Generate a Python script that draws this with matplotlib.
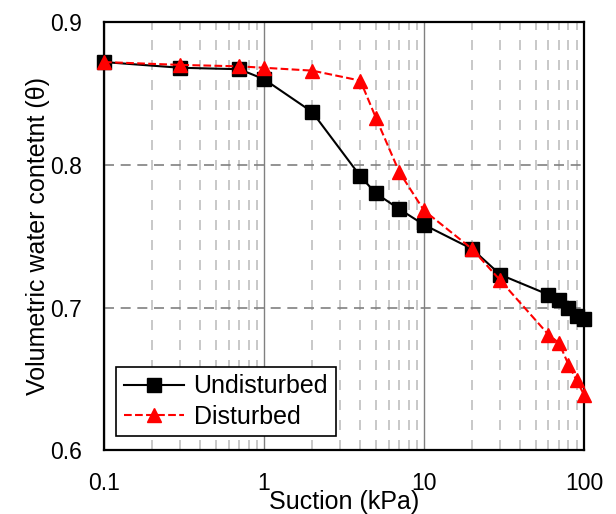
import matplotlib.pyplot as plt
from matplotlib.ticker import LogLocator, NullFormatter, FixedLocator

plt.rcParams['font.family'] = ['Liberation Sans', 'DejaVu Sans']

suction_und = [0.1, 0.3, 0.7, 1, 2, 4, 5, 7, 10, 20, 30, 60, 70, 80, 90, 100]
theta_und = [0.872, 0.868, 0.867, 0.860, 0.837, 0.792, 0.780, 0.769, 0.758,
             0.741, 0.723, 0.709, 0.705, 0.700, 0.694, 0.692]

suction_dis = [0.1, 0.3, 0.7, 1, 2, 4, 5, 7, 10, 20, 30, 60, 70, 80, 90, 100]
theta_dis = [0.872, 0.870, 0.869, 0.868, 0.866, 0.859, 0.833, 0.795, 0.768,
             0.741, 0.719, 0.681, 0.675, 0.660, 0.649, 0.639]

fig, ax = plt.subplots(figsize=(6.16, 5.14), dpi=100)
fig.subplots_adjust(left=0.169, right=0.948, top=0.957, bottom=0.124)

ax.plot(suction_und, theta_und, '-s', color='black', lw=1.5, ms=10,
        label='Undisturbed', zorder=3, clip_on=False)
ax.plot(suction_dis, theta_dis, '--^', color='red', lw=1.5, ms=10,
        label='Disturbed', zorder=4, clip_on=False)

ax.set_xscale('log')
ax.set_xlim(0.1, 100)
ax.set_ylim(0.6, 0.9)
ax.yaxis.set_major_locator(FixedLocator([0.6, 0.7, 0.8, 0.9]))
ax.set_yticklabels(['0.6', '0.7', '0.8', '0.9'])
ax.set_xticks([0.1, 1, 10, 100])
ax.set_xticklabels(['0.1', '1', '10', '100'])
ax.xaxis.set_minor_locator(LogLocator(base=10, subs=range(2, 10)))
ax.xaxis.set_minor_formatter(NullFormatter())

ax.grid(True, which='major', axis='x', color='#808080', lw=1.0, ls='-')
ax.grid(True, which='minor', axis='x', color='#bfbfbf', lw=1.2, ls=(0, (6, 6)))
ax.grid(True, which='major', axis='y', color='#808080', lw=1.2, ls=(0, (6, 4)))
ax.set_axisbelow(True)

ax.tick_params(which='both', length=0, labelsize=16.5, pad=16)
for s in ax.spines.values():
    s.set_linewidth(1.6)

ax.set_xlabel('Suction (kPa)', fontsize=18, labelpad=-4)
ax.set_ylabel('Volumetric water contetnt (\u03b8)', fontsize=18, labelpad=0)

leg = ax.legend(loc='lower left', bbox_to_anchor=(0.025, 0.033), fontsize=18,
                fancybox=False, edgecolor='black', framealpha=1,
                handlelength=2.4, handletextpad=0.4, borderpad=0.3,
                labelspacing=0.25, borderaxespad=0)
leg.get_frame().set_linewidth(1.2)

plt.savefig('out.png', dpi=100)
